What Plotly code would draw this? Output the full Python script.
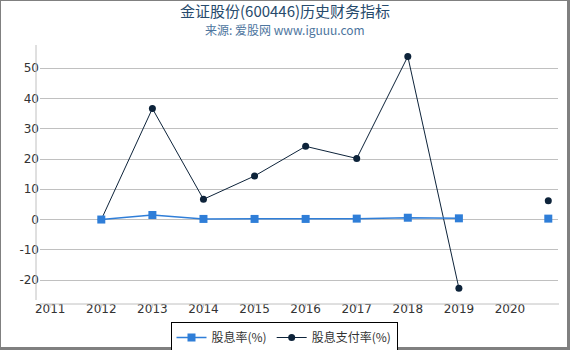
import plotly.graph_objects as go

years = [2012, 2013, 2014, 2015, 2016, 2017, 2018, 2019, 2020, 2020.75]
dividend_yield = [0.0, 1.5, 0.2, 0.2, 0.2, 0.3, 0.6, 0.4, None, 0.3]
payout_ratio = [0.0, 36.7, 6.7, 14.4, 24.2, 20.2, 53.9, -22.7, None, 6.2]
x_ticks = [2011, 2012, 2013, 2014, 2015, 2016, 2017, 2018, 2019, 2020]
y_ticks = [-20, -10, 0, 10, 20, 30, 40, 50]
y_tick_text = ["-20", "-10", "0", "10", "20", "30", "40", "50"]

W, H = 570, 350
L, R, T, B = 40, 12, 45, 50
pw, ph = W - L - R, H - T - B

font = "DejaVu Sans, Noto Sans CJK SC, sans-serif"

fig = go.Figure()
fig.add_trace(go.Scatter(
    x=years, y=payout_ratio, name="股息支付率(%)", mode="lines+markers",
    line=dict(color="#0d233a", width=1),
    marker=dict(symbol="circle", size=7, color="#0d233a"),
    connectgaps=False, legendrank=2,
))
fig.add_trace(go.Scatter(
    x=years, y=dividend_yield, name="股息率(%)", mode="lines+markers",
    line=dict(color="#2f7ed8", width=1.5),
    marker=dict(symbol="square", size=8, color="#2f7ed8"),
    connectgaps=False, legendrank=1,
))

def px(xp):
    return (xp - L) / pw

def py(yp):
    return 1 - (yp - T) / ph

shapes = [
    dict(type="line", xref="paper", yref="paper", x0=px(36), x1=px(36), y0=py(45), y1=py(300),
         line=dict(color="#c0c0c0", width=1)),
    dict(type="line", xref="paper", yref="paper", x0=px(40), x1=px(559), y0=py(304), y1=py(304),
         line=dict(color="#c0c0c0", width=1)),
    dict(type="line", xref="paper", yref="paper", x0=px(0.5), x1=px(0.5), y0=py(0), y1=py(350),
         line=dict(color="#808080", width=1)),
    dict(type="line", xref="paper", yref="paper", x0=px(0), x1=px(570), y0=py(0.5), y1=py(0.5),
         line=dict(color="#808080", width=1)),
    dict(type="line", xref="paper", yref="paper", x0=px(568.5), x1=px(568.5), y0=py(0), y1=py(350),
         line=dict(color="#808080", width=3)),
    dict(type="line", xref="paper", yref="paper", x0=px(0), x1=px(570), y0=py(348.5), y1=py(348.5),
         line=dict(color="#808080", width=3)),
]
for xv in x_ticks:
    xp = 50 + (xv - 2011) * 51.11
    shapes.append(dict(type="line", xref="paper", yref="paper", x0=px(xp), x1=px(xp),
                       y0=py(304), y1=py(308), line=dict(color="#c0c0c0", width=1)))

fig.update_layout(
    width=W, height=H,
    margin=dict(l=L, r=R, t=T, b=B, autoexpand=False),
    paper_bgcolor="white", plot_bgcolor="white",
    font=dict(family=font, size=12, color="#333333"),
    showlegend=True,
    legend=dict(orientation="h", x=284 / W, xanchor="center", xref="container",
                y=1 - 322 / H, yanchor="top", yref="container",
                bordercolor="#000000", borderwidth=1, traceorder="normal",
                font=dict(size=12, color="#333333", family="Noto Sans CJK SC, sans-serif"),
                itemwidth=30, tracegroupgap=0),
    xaxis=dict(range=[2010.80, 2020.94], tickvals=x_ticks, ticktext=[str(v) for v in x_ticks],
               showgrid=False, zeroline=False, showline=False, ticks="", automargin=False,
               tickfont=dict(size=12, color="#333333")),
    yaxis=dict(range=[-26.6, 57.7], tickvals=y_ticks, ticktext=y_tick_text,
               showgrid=True, gridcolor="#c0c0c0", automargin=False,
               gridwidth=1, zeroline=False, showline=False, ticks="",
               tickfont=dict(size=12, color="#333333")),
    shapes=shapes,
    annotations=[
        dict(text="金证股份(600446)历史财务指标", xref="paper", yref="paper",
             x=px(285), y=py(10), xanchor="center", yanchor="middle", showarrow=False,
             font=dict(size=15, color="#274b6d", family="Noto Sans CJK SC, sans-serif")),
        dict(text="来源: 爱股网 www.iguuu.com", xref="paper", yref="paper",
             x=px(285), y=py(29), xanchor="center", yanchor="middle", showarrow=False,
             font=dict(size=12, color="#4d759e", family="Noto Sans CJK SC, sans-serif")),
    ],
)

fig.write_html("out.html")
